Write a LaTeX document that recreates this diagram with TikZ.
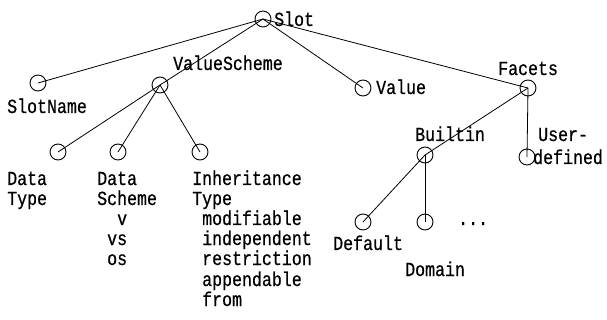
\documentclass[tikz,border=0pt]{standalone}
\usepackage{fontspec}
\setmonofont[FakeStretch=0.83,FakeBold=0.6]{Liberation Mono}
\begin{document}
\begin{tikzpicture}[x=1pt,y=-1pt,
  dot/.style={draw,circle,minimum size=16pt,inner sep=0pt,line width=0.9pt},
  lbl/.style={anchor=base west,inner sep=0pt,font=\fontsize{20}{20}\selectfont\ttfamily},
  edge/.style={line width=0.8pt}]
\useasboundingbox (0,0) rectangle (607,320);
% circles
\node[dot] (slot) at (263,19) {};
\node[dot] (sn) at (38,83) {};
\node[dot] (vsc) at (160,85) {};
\node[dot] (dt) at (58,152) {};
\node[dot] (ds) at (118,152) {};
\node[dot] (it) at (200,152) {};
\node[dot] (val) at (363,88) {};
\node[dot] (fac) at (528,88) {};
\node[dot] (bi) at (425,155) {};
\node[dot] (ud) at (527,157) {};
\node[dot] (def) at (363,222) {};
\node[dot] (dom) at (425,222) {};
% connectors
\draw[edge] (slot.center) -- (sn.center);
\draw[edge] (slot.center) -- (vsc.center);
\draw[edge] (slot.center) -- (val.center);
\draw[edge] (slot.center) -- (fac.center);
\draw[edge] (vsc.center) -- (dt.center);
\draw[edge] (vsc.center) -- (ds.center);
\draw[edge] (vsc.center) -- (it.center);
\draw[edge] (fac.center) -- (bi.center);
\draw[edge] (fac.center) -- (ud.center);
\draw[edge] (bi.center) -- (def.center);
\draw[edge] (bi.center) -- (dom.center);
% labels
\node[lbl] (tslot) at (274,26) {Slot};
\node[lbl] (tsn) at (7,113) {SlotName};
\node[lbl] (tvsc) at (173,70) {ValueScheme};
\node[lbl] (tval) at (376,94) {Value};
\node[lbl] (tfac) at (498,75) {Facets};
\node[lbl] (tbi) at (415,141) {Builtin};
\node[lbl] (tud1) at (538,141) {User-};
\node[lbl] (tud2) at (533,164) {defined};
\node[lbl] (tdt1) at (7,185) {Data};
\node[lbl] (tdt2) at (7,205) {Type};
\node[lbl] (tds1) at (97,185) {Data};
\node[lbl] (tds2) at (97,205) {Scheme};
\node[lbl] (tds3) at (117,225) {v};
\node[lbl] (tds4) at (107,245) {vs};
\node[lbl] (tds5) at (107,265) {os};
\node[lbl] (tit1) at (192,185) {Inheritance};
\node[lbl] (tit2) at (192,205) {Type};
\node[lbl] (tit3) at (202,225) {modifiable};
\node[lbl] (tit4) at (202,245) {independent};
\node[lbl] (tit5) at (202,265) {restriction};
\node[lbl] (tit6) at (202,286) {appendable};
\node[lbl] (tit7) at (202,306) {from};
\node[lbl] (tdef) at (333,250) {Default};
\node[lbl] (tdom) at (405,276) {Domain};
\node[lbl] (tdots) at (458,225) {...};
\end{tikzpicture}
\end{document}
